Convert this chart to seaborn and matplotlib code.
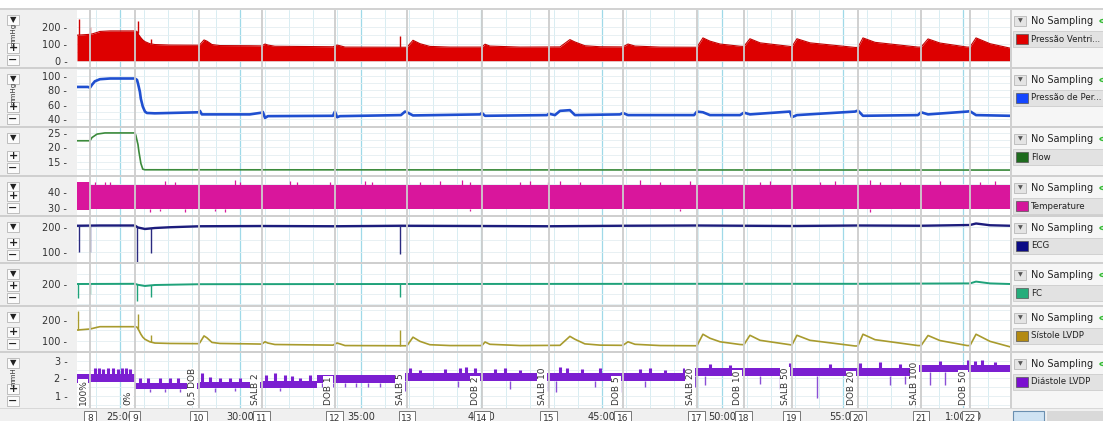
import numpy as np
import pandas as pd
import matplotlib
matplotlib.use("Agg")
import matplotlib.pyplot as plt
from matplotlib.patches import Rectangle, Circle
import seaborn as sns

# ---------------- data (time in minutes) ----------------
lvp_t = [23.22, 23.76, 23.84, 24.05, 24.17, 24.59, 25.62, 25.71, 25.79, 25.87,
         25.95, 26.04, 26.24, 26.45, 27.07, 28.28, 28.32, 28.49, 28.61, 28.82,
         29.15, 30.39, 30.89, 31.02, 31.14, 31.43, 33.84, 34.01, 34.13, 34.34,
         36.91, 37.16, 37.45, 37.86, 38.69, 40.02, 40.15, 40.35, 41.60, 43.26,
         43.67, 43.88, 44.29, 44.92, 45.87, 46.08, 46.37, 47.41, 48.94, 49.19,
         49.48, 49.90, 50.73, 50.89, 51.14, 51.56, 52.80, 52.88, 53.09, 53.63,
         55.50, 55.62, 55.83, 56.33, 58.11, 58.24, 58.53, 59.02, 60.15, 60.27,
         60.52, 61.10, 61.93]
lvp_v = [150, 155, 157, 166, 172, 175, 175, 172, 150, 135,
         122, 112, 100, 95, 92, 91, 95, 122, 115, 95,
         89, 88, 87, 98, 92, 85, 82, 92, 88, 80,
         79, 120, 100, 84, 80, 80, 97, 86, 80, 81,
         124, 110, 88, 82, 81, 98, 86, 80, 79, 134,
         115, 98, 85, 84, 129, 105, 84, 82, 129, 105,
         78, 78, 134, 108, 80, 80, 128, 104, 80, 80,
         134, 100, 74]
lvp_spike_t = [23.30, 23.76, 25.75, 26.29, 36.62]
lvp_spike_v = [243, 196, 235, 126, 143]

perf_t = [23.22, 23.67, 23.76, 23.84, 23.96, 24.17, 24.59, 25.62, 25.71, 25.75,
          25.83, 25.87, 25.95, 26.04, 26.12, 26.45, 28.28, 28.32, 28.40, 30.39,
          30.89, 30.93, 31.02, 31.14, 33.84, 33.92, 34.01, 34.13, 36.66, 36.83,
          36.91, 37.16, 39.94, 40.02, 40.15, 42.72, 42.80, 43.05, 43.26, 43.67,
          43.88, 45.75, 45.87, 46.08, 48.82, 48.94, 49.19, 49.48, 50.73, 50.89,
          51.14, 52.80, 52.88, 53.09, 55.50, 55.62, 55.83, 58.11, 58.24, 58.53,
          60.15, 60.27, 60.52, 61.93]
perf_v = [85, 85, 84, 88, 93, 96, 97, 97, 95, 90,
          78, 68, 57, 50, 48, 47.5, 49, 51, 46, 46,
          48.5, 49.5, 41, 43.5, 44, 50, 42, 43.5, 45, 50,
          49, 44.5, 46, 48, 44, 45, 47, 45, 51, 52,
          45, 46, 48, 45, 45, 50, 49, 45, 45, 48.5,
          46, 50, 42, 45, 50, 51.5, 44, 45, 49, 46,
          50, 50.5, 45, 44]

flow_t = [23.22, 23.76, 23.84, 24.05, 24.38, 25.62, 25.66, 25.75, 25.79, 25.87,
          25.95, 26.04, 61.93]
flow_v = [22.3, 22.3, 23.4, 24.6, 25.0, 25.0, 24.2, 21.0, 18.5, 14.5,
          12.5, 12.3, 12.2]

temp_t = [23.22, 23.76, 61.93]
temp_hi = [46.5, 44.3, 44.3]
temp_lo = [28.8, 29.3, 29.3]
temp_up_t = [23.96, 24.38, 24.59, 26.87, 27.28, 29.77, 29.98, 32.05, 32.34, 33.71,
             35.17, 35.46, 37.45, 38.28, 39.19, 39.52, 41.60, 42.01, 42.76, 43.26,
             44.09, 46.58, 47.41, 48.65, 51.56, 51.97, 54.05, 54.67, 56.12, 56.54,
             57.37, 59.02, 60.68, 61.31]
temp_up_v = [46, 46.5, 46, 47, 46.5, 47.5, 46.5, 47, 46, 46.5,
             47, 46.5, 46, 47, 47.5, 46.5, 46, 47, 46.5, 47,
             46, 47.5, 46.5, 47, 46, 47, 46.5, 47, 47.5, 46.5,
             46, 47, 46.5, 47]
temp_dn_t = [26.24, 26.66, 27.70, 28.94, 29.36, 39.52, 48.24, 56.12]
temp_dn_v = [27.5, 27.8, 27.5, 28.0, 27.6, 27.8, 27.9, 27.7]

ecg_t = [23.22, 24.17, 25.62, 25.75, 26.04, 26.45, 27.07, 28.32, 30.93, 33.92,
         36.66, 40.02, 42.80, 45.87, 48.94, 50.89, 52.88, 55.62, 58.24, 60.27,
         60.52, 61.10, 61.93]
ecg_v = [205, 206, 206, 198, 192, 196, 199, 203, 204, 203,
         205, 204, 203, 205, 206, 205, 204, 206, 205, 208,
         214, 207, 205]
ecg_spike_t = [23.30, 23.76, 25.71, 26.29, 36.62]
ecg_spike_v = [100, 100, 40, 96, 92]

fc_t = [23.22, 25.62, 25.75, 26.04, 26.45, 28.32, 36.66, 48.94, 55.62, 60.27,
        60.52, 61.10, 61.93]
fc_v = [200, 201, 196, 190, 195, 199, 200, 201, 201, 203,
        212, 203, 200]
fc_spike_t = [23.26, 23.76, 25.71, 26.29, 36.62]
fc_spike_v = [130, 148, 115, 135, 135]

lvsp_t = [23.22, 23.76, 23.84, 24.05, 24.17, 24.59, 25.62, 25.71, 25.79, 25.87,
          25.95, 26.04, 26.24, 26.45, 27.07, 28.28, 28.32, 28.49, 28.61, 28.82,
          29.15, 30.39, 30.89, 31.02, 31.14, 31.43, 33.84, 34.01, 34.13, 34.34,
          36.91, 37.16, 37.45, 37.86, 38.69, 40.02, 40.15, 40.35, 41.60, 43.26,
          43.67, 43.88, 44.29, 44.92, 45.87, 46.08, 46.37, 47.41, 48.94, 49.19,
          49.48, 49.90, 50.73, 50.89, 51.14, 51.56, 52.80, 52.88, 53.09, 53.63,
          55.50, 55.62, 55.83, 56.33, 58.11, 58.24, 58.53, 59.02, 60.15, 60.27,
          60.52, 61.10, 61.93]
lvsp_v = [152, 157, 159, 165, 168, 168, 168, 166, 150, 132,
          118, 108, 96, 90, 88, 87, 92, 124, 115, 93,
          88, 86, 85, 96, 90, 83, 80, 90, 86, 78,
          77, 118, 98, 82, 78, 78, 95, 84, 78, 79,
          122, 108, 86, 80, 79, 96, 84, 78, 77, 132,
          113, 96, 83, 82, 127, 103, 82, 80, 127, 103,
          76, 76, 132, 106, 78, 78, 126, 102, 78, 78,
          132, 98, 72]
lvsp_spike_t = [23.26, 23.76, 25.75, 26.29, 36.62]
lvsp_spike_v = [243, 195, 227, 129, 150]

diast_t = [23.22, 23.76, 25.62, 27.70, 28.32, 30.39, 30.89, 33.17, 36.62, 48.65, 58.11, 61.93]
diast_lo = [1.75, 1.80, 1.40, 1.40, 1.45, 1.45, 1.48, 1.77, 1.87, 2.15, 2.35, 2.35]
diast_hi = [2.25, 2.25, 1.77, 1.77, 1.80, 1.80, 1.88, 2.20, 2.30, 2.62, 2.75, 2.75]
diast_up_t = [23.96, 24.13, 24.29, 24.50, 24.71, 24.92, 25.08, 25.25, 25.41, 25.83,
              26.16, 26.66, 27.07, 27.41, 28.40, 28.73, 29.15, 29.56, 29.98, 31.06,
              31.43, 31.85, 32.14, 32.47, 32.88, 37.03, 37.45, 38.49, 39.11, 39.36,
              39.73, 40.56, 40.98, 41.60, 43.26, 43.55, 44.17, 44.92, 46.58, 46.99,
              47.61, 48.40, 49.48, 50.31, 52.80, 54.46, 55.71, 56.54, 57.37, 59.02,
              60.19, 60.48, 60.77, 61.31]
diast_up_v = [2.6, 2.6, 2.55, 2.6, 2.6, 2.55, 2.6, 2.6, 2.55, 2.05,
              2.05, 2.0, 2.05, 2.0, 2.3, 2.1, 2.0, 2.05, 2.0, 2.2,
              2.3, 2.2, 2.15, 2.0, 2.2, 2.6, 2.5, 2.55, 2.6, 2.65,
              2.6, 2.55, 2.6, 2.5, 2.65, 2.6, 2.55, 2.6, 2.55, 2.6,
              2.5, 2.6, 2.85, 2.8, 2.9, 2.85, 2.9, 2.95, 2.85, 3.0,
              3.05, 3.0, 3.05, 2.95]
diast_dn_t = [26.24, 26.87, 27.49, 28.94, 29.77, 31.64, 33.38, 33.84, 34.34, 34.79,
              35.29, 35.79, 36.41, 36.83, 39.02, 41.18, 42.76, 43.09, 44.71, 45.75,
              46.78, 48.86, 49.27, 51.56, 52.39, 53.92, 56.95, 57.57, 58.61, 59.23]
diast_dn_v = [1.2, 1.2, 1.2, 1.25, 1.3, 1.3, 1.5, 1.5, 1.5, 1.5,
              1.5, 1.5, 1.5, 1.3, 1.5, 1.4, 1.3, 1.2, 1.5, 1.2,
              1.5, 1.5, 1.6, 1.7, 1.4, 0.9, 1.6, 1.7, 1.6, 1.6]

comment_t = [23.76, 25.62, 28.28, 30.89, 33.92, 36.91, 40.02, 42.80, 45.87, 48.94,
             50.89, 52.88, 55.62, 58.24, 60.27]
comment_no = [8, 9, 10, 11, 12, 13, 14, 15, 16, 17, 18, 19, 20, 21, 22]
comment_txt = ["100%", "0%", "0,5 DOB", "SALB 2", "DOB 1", "SALB 5", "DOB 2", "SALB 10",
               "DOB 5", "SALB 20", "DOB 10", "SALB 50", "DOB 20", "SALB 100", "DOB 50"]

time_ticks = [25, 30, 35, 40, 45, 50, 55, 60]
time_labels = ["25:00", "30:00", "35:00", "40:00", "45:00", "50:00", "55:00", "1:00:00"]

ch_names = ["Pressão Ventri...", "Pressão de Per...", "Flow", "Temperature",
            "ECG", "FC", "Sístole LVDP", "Diástole LVDP"]
ch_swatch = ["#e00000", "#1446ff", "#1e6b1e", "#d4169a", "#0b0b85", "#25ad7b", "#b38a12", "#7a0fd0"]
ch_yticks = [[0, 100, 200], [40, 60, 80, 100], [15, 20, 25], [30, 40], [100, 200], [200],
             [100, 200], [1, 2, 3]]
ch_ylim = [(-37, 298), (29.5, 110.5), (10.5, 26.7), (25.6, 49.4), (60, 240), (95, 300),
           (52, 262), (0.31, 3.46)]
ch_minor = [50, 10, 2.5, 5, 50, 50, 50, 0.5]
ch_unit = ["mmHg", "mmHg", "", "", "", "", "", "mmH"]

# ---------------- layout ----------------
W, H = 1103, 421
T0, T1 = 23.22, 61.93
X0, X1 = 77, 1010
panels_px = [(10, 67), (69, 126), (128, 175), (177, 215), (217, 262), (264, 305), (307, 351), (353, 408)]

sns.set_theme(style="white")
plt.rcParams['font.family'] = ['DejaVu Sans']

fig = plt.figure(figsize=(W / 100, H / 100), dpi=100)
fig.patch.set_facecolor('#f0f0f0')


def fbox(x0, y0, x1, y1):
    return [x0 / W, 1 - y1 / H, (x1 - x0) / W, (y1 - y0) / H]


def frect(x0, y0, x1, y1, **kw):
    fig.add_artist(Rectangle((x0 / W, 1 - y1 / H), (x1 - x0) / W, (y1 - y0) / H,
                             transform=fig.transFigure, **kw))


def ftext(x, y, s, **kw):
    fig.text(x / W, 1 - y / H, s, **kw)


# top white strip and separators
frect(0, 0, W, 8, fc='white', ec='none')
frect(0, 8, W, 10, fc='#d2d2d2', ec='none')
for (a, b), (c, d) in zip(panels_px[:-1], panels_px[1:]):
    frect(0, b, W, c, fc='#cfcfcf', ec='none')
frect(0, 408, W, 409, fc='#d8d8d8', ec='none')
# right panel
frect(1010, 10, W, 408, fc='#f6f6f6', ec='none', zorder=0.5)
for (a, b), (c, d) in zip(panels_px[:-1], panels_px[1:]):
    frect(1010, b, W, c, fc='#cfcfcf', ec='none')
frect(1010, 10, 1012, 408, fc='#d0d0d0', ec='none')

axes = []
for i, (top, bot) in enumerate(panels_px):
    ax = fig.add_axes(fbox(X0, top, X1, bot))
    ax.set_facecolor('white')
    ax.set_xlim(T0, T1)
    ax.set_ylim(*ch_ylim[i])
    ax.set_xticks(time_ticks)
    ax.set_xticks(np.arange(24, 62, 1), minor=True)
    yt = ch_yticks[i]
    ax.set_yticks(yt)
    ax.set_yticklabels([f"{v} -" for v in yt])
    lo, hi = ch_ylim[i]
    ax.set_yticks(np.arange(np.ceil(lo / ch_minor[i]) * ch_minor[i], hi, ch_minor[i]), minor=True)
    ax.grid(True, which='minor', axis='x', color='#d8edf2', lw=0.7, zorder=0)
    ax.grid(True, which='major', axis='x', color='#9fd9e8', lw=0.9, zorder=0)
    ax.grid(True, which='both', axis='y', color='#e4eef1', lw=0.6, zorder=0)
    ax.set_axisbelow(True)
    ax.tick_params(axis='x', which='both', length=0, labelbottom=False)
    ax.tick_params(axis='y', which='both', length=0, labelsize=7, pad=7, colors='#333333')
    for sp in ax.spines.values():
        sp.set_visible(False)
    axes.append(ax)


def line(ax, t, v, color, lw):
    df = pd.DataFrame({"t": t, "v": v})
    sns.lineplot(data=df, x="t", y="v", ax=ax, color=color, lw=lw,
                 estimator=None, sort=False, legend=False, zorder=3)
    ax.set_xlabel("")
    ax.set_ylabel("")


def spikes(ax, st, sv, bt, bv, color, lw):
    base = np.interp(st, bt, bv)
    ax.vlines(st, base, sv, colors=color, lw=lw, zorder=3)


# 1 LV pressure (filled)
ax = axes[0]
ax.fill_between(lvp_t, 0, lvp_v, color='#dd0000', lw=0, zorder=3)
line(ax, lvp_t, lvp_v, '#c40000', 0.8)
spikes(ax, lvp_spike_t, lvp_spike_v, lvp_t, lvp_v, '#cc0000', 1.0)

# 2 perfusion pressure
line(axes[1], perf_t, perf_v, '#1f4fd0', 1.9)

# 3 flow
line(axes[2], flow_t, flow_v, '#3b8a3b', 1.2)

# 4 temperature band
ax = axes[3]
ax.fill_between(temp_t, temp_lo, temp_hi, step='post', color='#d9169c', lw=0, zorder=3)
ax.vlines(temp_up_t, 44, temp_up_v, colors='#d9169c', lw=0.9, zorder=3)
ax.vlines(temp_dn_t, temp_dn_v, 29.5, colors='#d9169c', lw=0.9, zorder=3)

# 5 ECG
line(axes[4], ecg_t, ecg_v, '#1c1c7c', 1.7)
spikes(axes[4], ecg_spike_t, ecg_spike_v, ecg_t, ecg_v, '#2a2a80', 1.0)

# 6 FC
line(axes[5], fc_t, fc_v, '#1fa27a', 1.4)
spikes(axes[5], fc_spike_t, fc_spike_v, fc_t, fc_v, '#1fa27a', 1.0)

# 7 systolic LVDP
line(axes[6], lvsp_t, lvsp_v, '#a89b2e', 1.2)
spikes(axes[6], lvsp_spike_t, lvsp_spike_v, lvsp_t, lvsp_v, '#a89b2e', 1.0)

# 8 diastolic LVDP
ax = axes[7]
ax.fill_between(diast_t, diast_lo, diast_hi, step='post', color='#7b1fd1', lw=0, zorder=3)
idx = np.clip(np.searchsorted(diast_t, diast_up_t, side='right') - 1, 0, len(diast_t) - 1)
ax.vlines(diast_up_t, np.array(diast_hi)[idx], diast_up_v, colors='#7b1fd1', lw=2.2, zorder=3)
idx = np.clip(np.searchsorted(diast_t, diast_dn_t, side='right') - 1, 0, len(diast_t) - 1)
ax.vlines(diast_dn_t, diast_dn_v, np.array(diast_lo)[idx], colors='#8a4fd6', lw=1.0, zorder=3)

# comment lines across all panels
for ax in axes:
    ax.vlines(comment_t, 0, 1, transform=ax.get_xaxis_transform(), colors='#cdcdcd', lw=1.3, zorder=5)

# comment texts in the last panel
for t, s in zip(comment_t, comment_txt):
    axes[7].annotate(s, xy=(t, 0.05), xycoords=('data', 'axes fraction'),
                     xytext=(-1.5, 0), textcoords='offset points', rotation=90,
                     ha='right', va='bottom', fontsize=6.5, color='#333333', zorder=6,
                     bbox=dict(boxstyle='square,pad=0.05', fc='white', ec='none'))

# bottom time axis strip
axb = fig.add_axes(fbox(X0, 408.5, X1, 409.5))
axb.set_xlim(T0, T1)
axb.set_facecolor('none')
axb.set_yticks([])
axb.set_xticks(time_ticks)
axb.set_xticklabels(time_labels)
axb.tick_params(axis='x', length=0, pad=1.5, labelsize=7, colors='#333333')
for sp in axb.spines.values():
    sp.set_visible(False)
for t, n in zip(comment_t, comment_no):
    axb.annotate(str(n), xy=(t, 0), xycoords=('data', 'axes fraction'),
                 xytext=(0, -6.5), textcoords='offset points', ha='center', va='center',
                 fontsize=6.5, color='#333333', annotation_clip=False, zorder=10,
                 bbox=dict(boxstyle='square,pad=0.3', fc='white', ec='#777777', lw=0.7))

# left control column
for i, (top, bot) in enumerate(panels_px):
    ys = [top + 10, bot - 19, bot - 7]
    for y, g in zip(ys, ["▼", "+", "−"]):
        frect(7, y - 5, 19, y + 5, fc='#fbfbfb', ec='#b5b5b5', lw=0.6)
        ftext(13, y, g, ha='center', va='center', fontsize=6 if g == "▼" else 8,
              fontweight='bold', color='#222222')
    if ch_unit[i]:
        ftext(13, (ys[0] + ys[1]) / 2 + 0.5, ch_unit[i], ha='center', va='center', rotation=90,
              fontsize=5, color='#333333')

# right channel panel
for i, (top, bot) in enumerate(panels_px):
    frect(1014, top + 6, 1026, top + 16, fc='#e4e4e4', ec='#b8b8b8', lw=0.6)
    ftext(1020, top + 11, "▼", ha='center', va='center', fontsize=4.5, color='#555555')
    ftext(1031, top + 11, "No Sampling", ha='left', va='center', fontsize=7, color='#222222')
    fig.add_artist(Circle((1104 / W, 1 - (top + 11) / H), 4 / W, transform=fig.transFigure,
                          fc='none', ec='#33bb33', lw=1.0))
    frect(1013, top + 21, W, min(top + 37, bot), fc='#e2e2e2', ec='#cdcdcd', lw=0.6)
    frect(1016, top + 24, 1028, min(top + 34, bot - 1), fc=ch_swatch[i], ec='#555555', lw=0.5)
    ftext(1031, top + 29, ch_names[i], ha='left', va='center', fontsize=6.2, color='#222222')

# bottom right buttons
frect(1013, 411, 1044, 421, fc='#cfe3f3', ec='#6a8fb0', lw=0.8)
frect(1047, 411, W, 421, fc='#d9d9d9', ec='none')

fig.savefig('out.png', dpi=100, facecolor=fig.get_facecolor())
